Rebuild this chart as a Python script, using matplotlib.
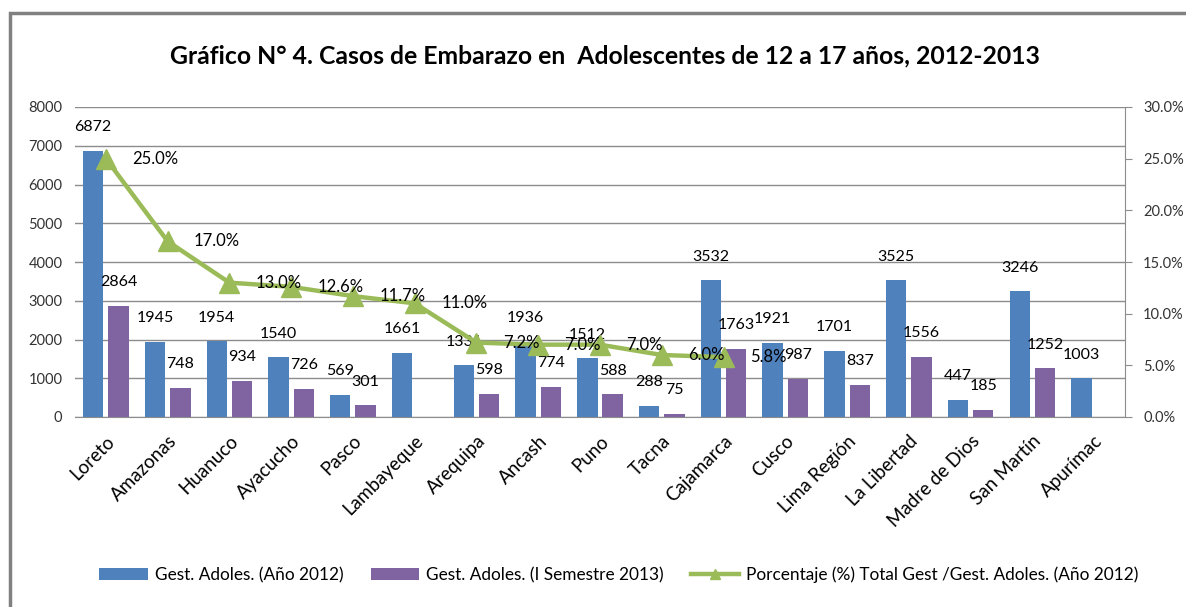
import matplotlib.pyplot as plt
import numpy as np
from matplotlib.patches import Rectangle
from matplotlib.lines import Line2D
from matplotlib.ticker import FuncFormatter

plt.rcParams['font.family'] = ['Lato', 'DejaVu Sans']

regiones = ['Loreto', 'Amazonas', 'Huanuco', 'Ayacucho', 'Pasco', 'Lambayeque',
            'Arequipa', 'Ancash', 'Puno', 'Tacna', 'Cajamarca', 'Cusco',
            'Lima Región', 'La Libertad', 'Madre de Dios', 'San Martín', 'Apurímac']
gest_2012 = [6872, 1945, 1954, 1540, 569, 1661, 1331, 1936, 1512, 288,
             3532, 1921, 1701, 3525, 447, 3246, 1003]
gest_2013 = [2864, 748, 934, 726, 301, np.nan, 598, 774, 588, 75,
             1763, 987, 837, 1556, 185, 1252, np.nan]
porcentaje = [25.0, 17.0, 13.0, 12.6, 11.7, 11.0, 7.2, 7.0, 7.0, 6.0, 5.8]

titulo = 'Gráfico N° 4. Casos de Embarazo en  Adolescentes de 12 a 17 años, 2012-2013'
nombres = ['Gest. Adoles. (Año 2012)', 'Gest. Adoles. (I Semestre 2013)',
           'Porcentaje (%) Total Gest /Gest. Adoles. (Año 2012)']

azul = '#4F81BD'
morado = '#8064A2'
verde = '#9BBB59'
gris = '#8C8C8C'

W, H = 1186, 607
fig = plt.figure(figsize=(W / 100, H / 100), dpi=100)
ax = fig.add_axes([75 / W, (H - 417) / H, (1125 - 75) / W, (417 - 107) / H])
ax2 = ax.twinx()

# marco exterior del grafico
fig.patches.append(Rectangle((10 / W, -0.1), 1.2, (H - 13) / H + 0.1,
                             transform=fig.transFigure, fill=False,
                             edgecolor='#808080', linewidth=2.5))

x = np.arange(len(regiones))
ancho = 0.33
desp = 0.205
b1 = ax.bar(x - desp, gest_2012, ancho, color=azul, zorder=2, label=nombres[0])
b2 = ax.bar(x + desp, gest_2013, ancho, color=morado, zorder=2, label=nombres[1])

for i, v in enumerate(gest_2012):
    ax.annotate(str(v), (x[i] - desp, v), xytext=(0, 17), textcoords='offset points',
                ha='center', va='center', fontsize=11.5, zorder=6)
for i, v in enumerate(gest_2013):
    if np.isnan(v):
        continue
    ax.annotate(str(int(v)), (x[i] + desp, v), xytext=(0, 17),
                textcoords='offset points', ha='center', va='center',
                fontsize=11.5, zorder=6)

xp = x[:len(porcentaje)]
ax2.plot(xp, porcentaje, color=verde, linewidth=3.2, marker='^',
         markersize=15, zorder=4)
for xi, p in zip(xp, porcentaje):
    ax2.annotate(f'{p:.1f}%', (xi, p), xytext=(19, 0), textcoords='offset points',
                 ha='left', va='center', fontsize=12, zorder=6)

ax.set_xlim(-0.5, len(regiones) - 0.5)
ax.set_ylim(0, 8000)
ax.set_yticks(range(0, 8001, 1000))
ax2.set_ylim(0, 30)
ax2.set_yticks(range(0, 31, 5))
ax2.yaxis.set_major_formatter(FuncFormatter(lambda v, p: f'{v:.1f}%'))

ax.grid(axis='y', color=gris, linewidth=1, zorder=0)
ax.set_axisbelow(True)
for s in ['top', 'left', 'right']:
    ax.spines[s].set_visible(False)
for s in ['top', 'left', 'bottom']:
    ax2.spines[s].set_visible(False)
ax.spines['bottom'].set_color(gris)
ax2.spines['right'].set_color(gris)

ax.set_xticks(x)
ax.set_xticklabels(regiones, rotation=45, ha='right', rotation_mode='anchor',
                   fontsize=13.5)
ax.tick_params(axis='x', length=0, pad=11)
ax.tick_params(axis='y', length=0, labelsize=10.5, pad=9, colors='#333333')
ax2.tick_params(axis='y', length=5, color=gris, labelsize=10.5, pad=8,
                labelcolor='#333333')
ax2.patch.set_visible(False)

fig.text(605 / W, 1 - 56 / H, titulo, ha='center', va='center',
         fontsize=17.8, fontweight='bold')

# en la leyenda el triangulo es pequeño
h_linea = Line2D([], [], color=verde, linewidth=3.2, marker='^', markersize=7)
fig.legend([b1, b2, h_linea], nombres, loc='center', ncol=3, frameon=False,
           bbox_to_anchor=(619 / W, 32 / H), fontsize=12.4, handlelength=2.8,
           columnspacing=1.6, handletextpad=0.4)

fig.savefig('out.png', dpi=100)
